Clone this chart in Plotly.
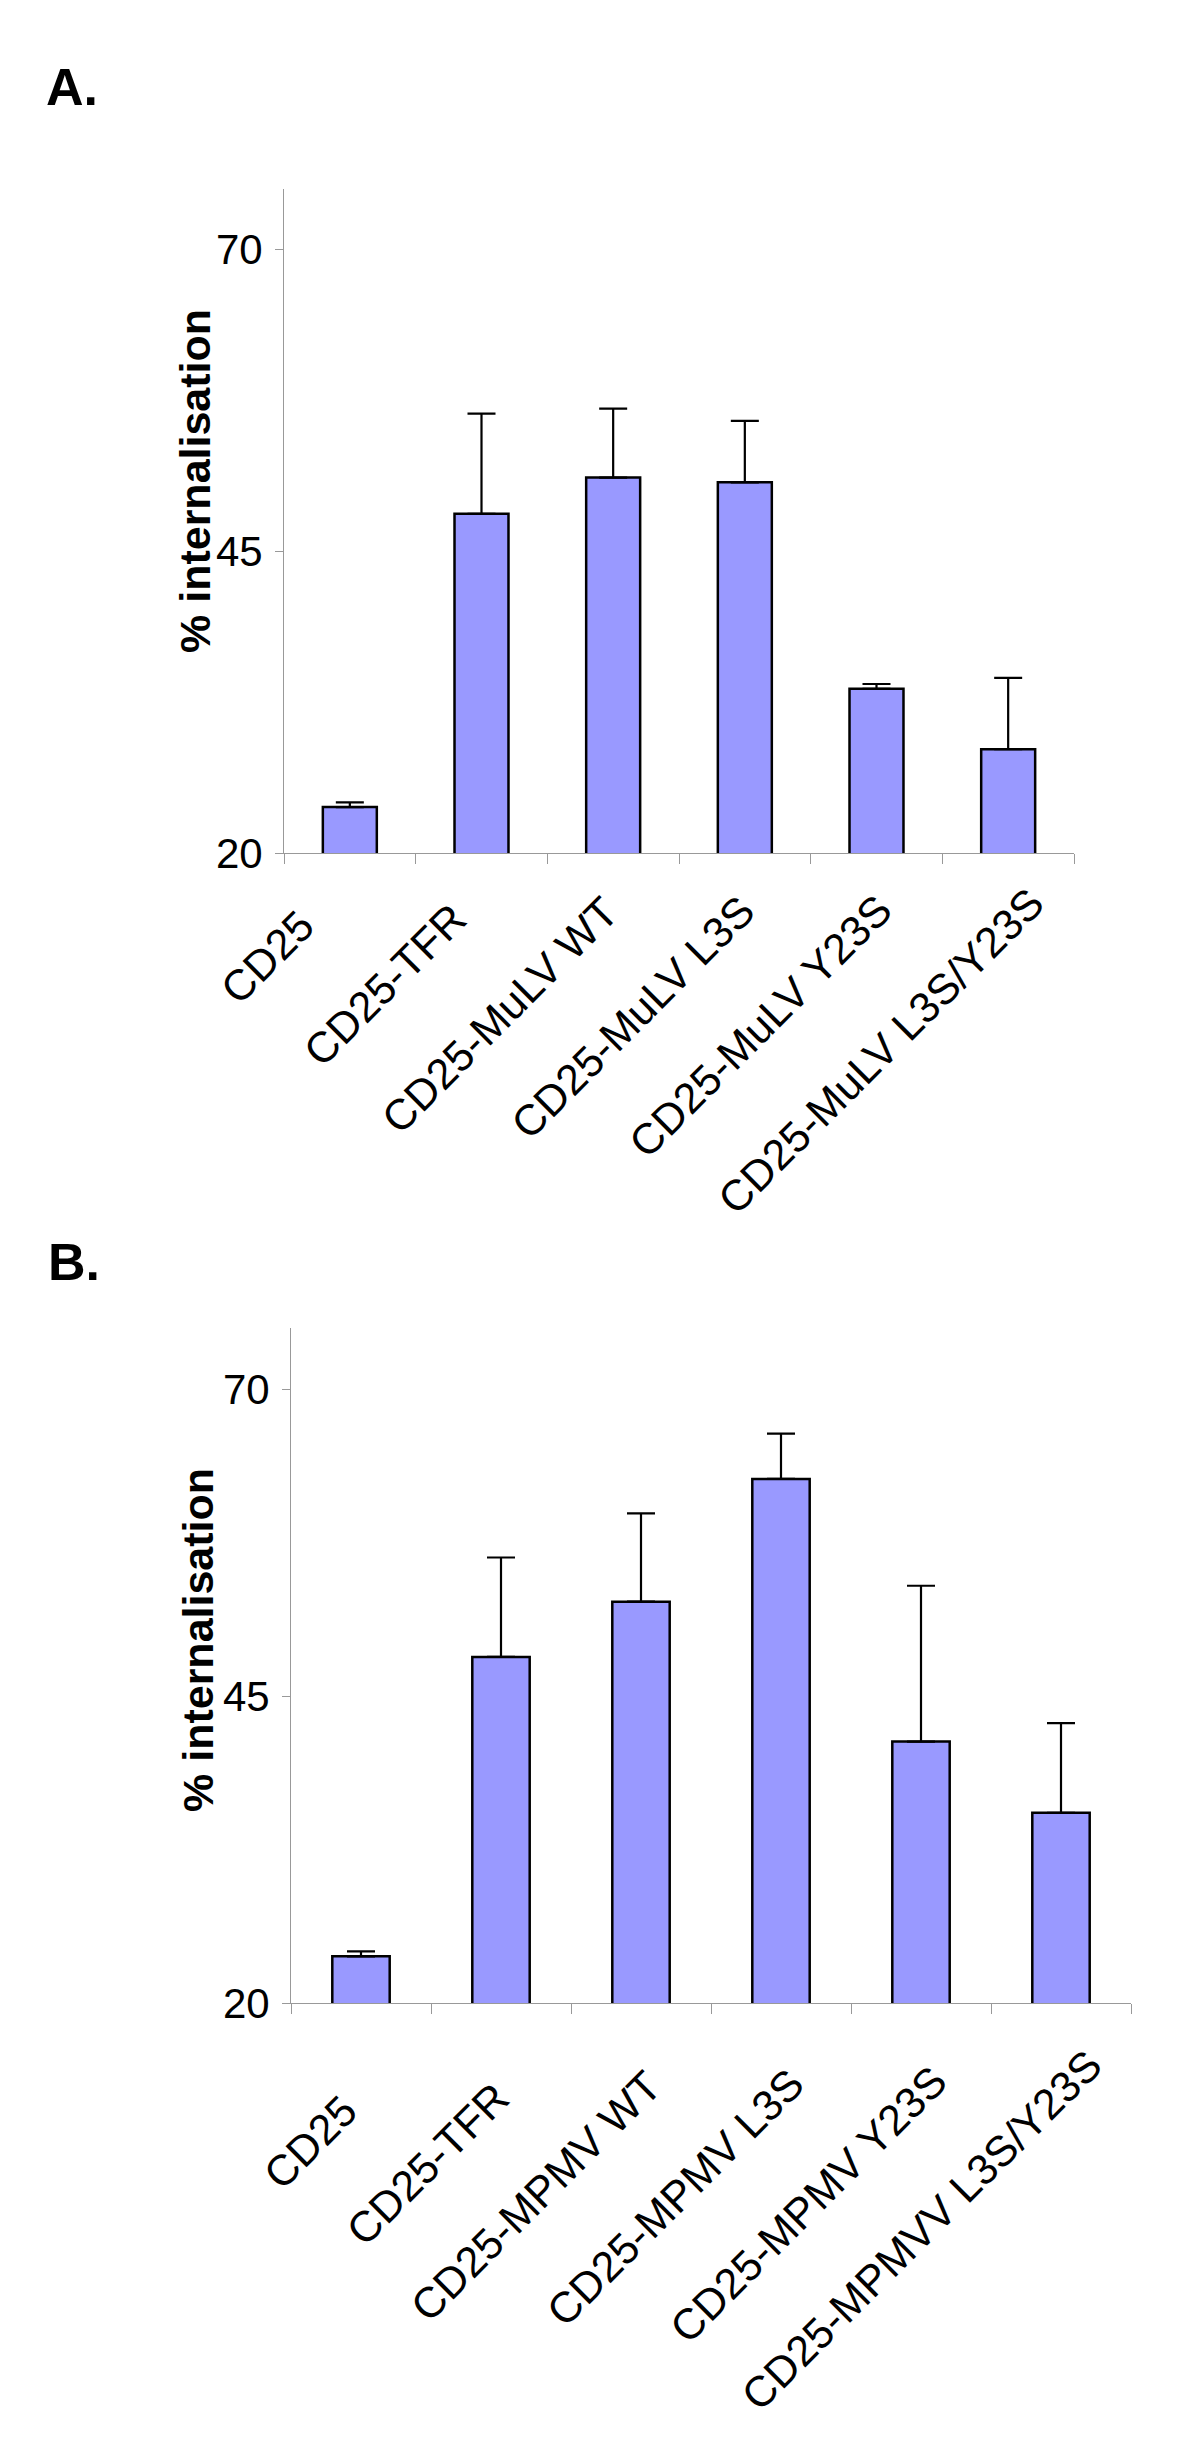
import plotly.graph_objects as go

# panel A - MuLV constructs
cats_a = ['CD25', 'CD25-TFR', 'CD25-MuLV WT', 'CD25-MuLV L3S',
          'CD25-MuLV Y23S', 'CD25-MuLV L3S/Y23S']
vals_a = [23.8, 48.1, 51.1, 50.7, 33.6, 28.6]
err_a = [0.4, 8.3, 5.7, 5.1, 0.4, 5.9]

# panel B - MPMV constructs
cats_b = ['CD25', 'CD25-TFR', 'CD25-MPMV WT', 'CD25-MPMV L3S',
          'CD25-MPMV Y23S', 'CD25-MPMVV L3S/Y23S']
vals_b = [23.8, 48.2, 52.7, 62.7, 41.3, 35.5]
err_b = [0.4, 8.1, 7.2, 3.7, 12.7, 7.3]

yticks = [20, 45, 70]

W, H = 1200, 2443
OFF = 8  # page body margin
BAR = '#9999FF'
AX = '#999999'
FONT = 'Liberation Sans, Arial, sans-serif'

fig = go.Figure()
fig.add_trace(go.Bar(x=cats_a, y=vals_a, xaxis='x', yaxis='y',
                     marker=dict(color=BAR, line=dict(color='black', width=2.5)),
                     error_y=dict(type='data', array=err_a, arrayminus=[0] * 6, symmetric=False,
                                  color='black', thickness=2.2, width=14)))
fig.add_trace(go.Bar(x=cats_b, y=vals_b, xaxis='x2', yaxis='y2',
                     marker=dict(color=BAR, line=dict(color='black', width=2.5)),
                     error_y=dict(type='data', array=err_b, arrayminus=[0] * 6, symmetric=False,
                                  color='black', thickness=2.2, width=14)))


def px_x(v):
    return (v - OFF) / W


def px_y(v):
    return 1 - (v - OFF) / H


xax = dict(showline=True, linecolor=AX, linewidth=1, ticks='outside', tickson='boundaries',
           ticklen=10, tickcolor=AX, showticklabels=False, showgrid=False, zeroline=False,
           automargin=False, range=[-0.5, 5.5])
yax = dict(showline=True, linecolor=AX, linewidth=1, ticks='outside', ticklen=8, tickcolor=AX,
           tickvals=yticks, range=[20, 75], showgrid=False, zeroline=False,
           automargin=False, ticklabelstandoff=4,
           tickfont=dict(family=FONT, size=42, color='black'))

fig.update_layout(
    width=W, height=H, autosize=False,
    margin=dict(l=0, r=0, t=0, b=0, autoexpand=False),
    paper_bgcolor='white', plot_bgcolor='white',
    showlegend=False, bargap=0.59,
    xaxis=dict(xax, domain=[px_x(284), px_x(1074)], anchor='y'),
    yaxis=dict(yax, domain=[px_y(853), px_y(189)], anchor='x'),
    xaxis2=dict(xax, domain=[px_x(291), px_x(1131)], anchor='y2'),
    yaxis2=dict(yax, domain=[px_y(2003), px_y(1328)], anchor='x2'),
)

# slanted category labels; longer labels sit a little further up/right (as in the original)
for cats, xr, yr, bx, by, kx, ky in [(cats_a, 'x', 'y', -24, 45, 5.1, 1.6),
                                     (cats_b, 'x2', 'y2', 8, 80, 3.0, 3.0)]:
    for c in cats:
        n = len(c) - 4
        fig.add_annotation(x=c, y=20, xref=xr, yref=yr, text=c, textangle=-45,
                           xanchor='right', yanchor='top', showarrow=False,
                           xshift=bx + kx * n, yshift=-(by - ky * n),
                           font=dict(family=FONT, size=43, color='black'))

ann = [
    dict(text='<b>A.</b>', x=px_x(44), y=px_y(87), xanchor='left', yanchor='middle',
         font=dict(family=FONT, size=52, color='black')),
    dict(text='<b>B.</b>', x=px_x(46), y=px_y(1262), xanchor='left', yanchor='middle',
         font=dict(family=FONT, size=52, color='black')),
    dict(text='<b>% internalisation</b>', x=px_x(195), y=px_y(481), textangle=-90,
         xanchor='center', yanchor='middle', font=dict(family=FONT, size=43, color='black')),
    dict(text='<b>% internalisation</b>', x=px_x(198), y=px_y(1640), textangle=-90,
         xanchor='center', yanchor='middle', font=dict(family=FONT, size=43, color='black')),
]
for a in ann:
    fig.add_annotation(a, xref='paper', yref='paper', showarrow=False)

fig.write_html('out.html')
